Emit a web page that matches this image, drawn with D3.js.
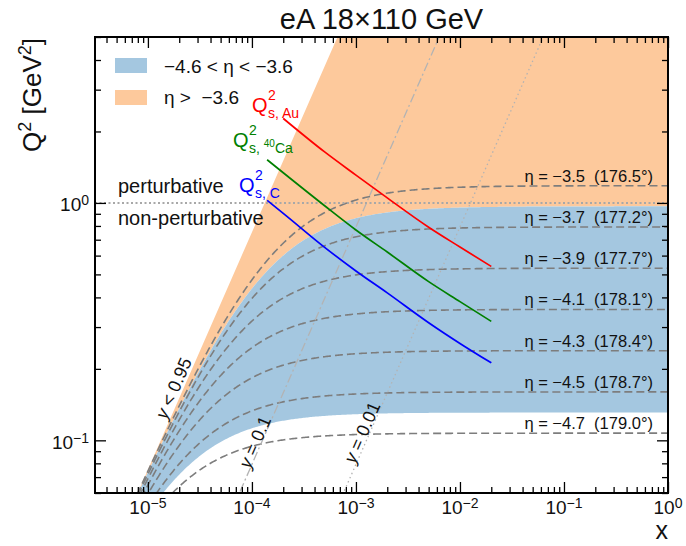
<!DOCTYPE html>
<html>
<head>
<meta charset="utf-8">
<script src="https://cdnjs.cloudflare.com/ajax/libs/d3/7.8.5/d3.min.js"></script>
<style>
  body { margin: 0; background: #fff; }
  svg { font-family: "Liberation Sans", Arial, sans-serif; }
  text { white-space: pre; }
</style>
</head>
<body>
<svg id="chart" width="686" height="546"></svg>
<script>
// beam energies (GeV)
const eBeam = 18;
const pBeam = 110;

// electron pseudorapidity band and iso-eta lines
const bandEta = [-4.6, -3.6];
const etaLines = [-3.5, -3.7, -3.9, -4.1, -4.3, -4.5, -4.7];
const etaAngles = ["176.5", "177.2", "177.7", "178.1", "178.4", "178.7", "179.0"];

// inelasticity lines and where their labels sit (Q2)
const yCuts = [0.95, 0.1, 0.01];
const yCutText = ["<", "=", "="];
const yCutLabelQ2 = [0.16, 0.096, 0.105];

// tick labels
const xTicks = [1e-5, 1e-4, 1e-3, 1e-2, 1e-1, 1];
const xTickExp = ["\u22125", "\u22124", "\u22123", "\u22122", "\u22121", "0"];
const yTicks = [0.1, 1];
const yTickExp = ["\u22121", "0"];

// saturation scales
const auX = [2e-4, 5e-4, 1e-3, 2e-3, 5e-3, 1e-2, 2e-2];
const auQ2 = [2.27, 1.64, 1.31, 1.05, 0.79, 0.652, 0.54];
const caX = [1.4e-4, 2e-4, 5e-4, 1e-3, 2e-3, 5e-3, 1e-2, 2e-2];
const caQ2 = [1.52, 1.34, 0.973, 0.769, 0.621, 0.466, 0.384, 0.317];
const cX = [1.4e-4, 2e-4, 5e-4, 1e-3, 2e-3, 5e-3, 1e-2, 2e-2];
const cQ2 = [1.025, 0.904, 0.650, 0.517, 0.418, 0.313, 0.256, 0.212];

const s = 4 * eBeam * pBeam;
const blueFill = "#a4c7e0";
const orangeFill = "#fdc99c";

const margin = {left: 95, right: 18, top: 37, bottom: 53};
const width = 686, height = 546;
const svg = d3.select("#chart");

const x = d3.scaleLog().domain([3.1e-6, 1]).range([margin.left, width - margin.right]);
const y = d3.scaleLog().domain([0.06, 5]).range([height - margin.bottom, margin.top]);

// Q2 along a line of constant electron eta
function etaQ2(eta, xv) {
  const A = 4 * eBeam * eBeam * Math.exp(2 * eta);
  return A * s * xv / (s * xv + A);
}
// x where an eta line meets y = 0.95
function etaXcut(eta, yc) {
  const A = 4 * eBeam * eBeam * Math.exp(2 * eta);
  return A * (1 - yc) / (yc * s);
}
function logSamples(a, b, n) {
  const la = Math.log10(a), lb = Math.log10(b);
  return d3.range(n + 1).map(i => Math.pow(10, la + (lb - la) * i / n));
}

svg.append("clipPath").attr("id", "plotclip")
  .append("rect")
  .attr("x", x.range()[0]).attr("y", y.range()[1])
  .attr("width", x.range()[1] - x.range()[0])
  .attr("height", y.range()[0] - y.range()[1]);

const plot = svg.append("g").attr("clip-path", "url(#plotclip)");
const line = d3.line().x(d => x(d[0])).y(d => y(d[1]));

// orange: eta > -3.6, y < 0.95
const x36 = etaXcut(bandEta[1], yCuts[0]);
const upper = logSamples(x36, 2, 500).map(v => [v, etaQ2(bandEta[1], v)]);
const orangePts = [[x36, 0.95 * s * x36], [20 / (0.95 * s), 20], [2, 20]]
  .concat(upper.slice().reverse());
plot.append("path")
  .attr("d", line(orangePts) + "Z")
  .attr("fill", orangeFill);

// blue: -4.6 < eta < -3.6, y < 0.95
const x46 = etaXcut(bandEta[0], yCuts[0]);
const lower = logSamples(x46, 2, 500).map(v => [v, etaQ2(bandEta[0], v)]);
const bluePts = upper.concat(lower.slice().reverse());
plot.append("path")
  .attr("d", line(bluePts) + "Z")
  .attr("fill", blueFill);

// iso-eta dashed lines
etaLines.forEach(eta => {
  const pts = logSamples(1e-6, 1.2, 500).map(v => [v, etaQ2(eta, v)]);
  plot.append("path")
    .attr("d", line(pts))
    .attr("fill", "none")
    .attr("stroke", "#7d7d7d")
    .attr("stroke-width", 1.6)
    .attr("stroke-dasharray", "8,4");
});

// y = 0.1 (dash-dot) and y = 0.01 (dotted)
[[yCuts[1], "9,3,2,3"], [yCuts[2], "1.5,3"]].forEach(([yc, dash]) => {
  const pts = [[1e-7, yc * s * 1e-7], [10 / (yc * s), 10]];
  plot.append("path")
    .attr("d", line(pts))
    .attr("fill", "none")
    .attr("stroke", "#b3b3b3")
    .attr("stroke-width", 1.3)
    .attr("stroke-dasharray", dash);
});

// perturbative boundary Q2 = 1
plot.append("line")
  .attr("x1", x.range()[0]).attr("x2", x.range()[1])
  .attr("y1", y(1)).attr("y2", y(1))
  .attr("stroke", "#a8a8a8")
  .attr("stroke-width", 2)
  .attr("stroke-dasharray", "2,2.5");

// saturation scales
const satLine = d3.line().x(d => x(d[0])).y(d => y(d[1])).curve(d3.curveMonotoneX);
[[auX, auQ2, "#ff0000"], [caX, caQ2, "#008000"], [cX, cQ2, "#0000ff"]].forEach(([xs, qs, col]) => {
  plot.append("path")
    .attr("d", satLine(xs.map((v, i) => [v, qs[i]])))
    .attr("fill", "none")
    .attr("stroke", col)
    .attr("stroke-width", 1.7);
});

// eta labels
etaLines.forEach((eta, i) => {
  svg.append("text")
    .attr("x", 653)
    .attr("y", y(etaQ2(eta, 0.3)) - 4)
    .attr("text-anchor", "end")
    .attr("font-size", 16.5)
    .attr("fill", "#111")
    .text(`\u03b7 = \u2212${Math.abs(eta).toFixed(1)}  (${etaAngles[i]}\u00b0)`);
});

// y-cut labels, rotated along the lines
yCuts.forEach((yc, i) => {
  const q = yCutLabelQ2[i];
  const px = x(q / (yc * s)), py = y(q);
  const p2x = x(10 * q / (yc * s)), p2y = y(10 * q);
  const ang = Math.atan2(p2y - py, p2x - px) * 180 / Math.PI;
  const off = [3, 0, 1][i];
  const a = ang * Math.PI / 180;
  const tx = px + off * Math.sin(a), ty = py - off * Math.cos(a);
  const t = svg.append("text")
    .attr("transform", `translate(${tx},${ty}) rotate(${ang})`)
    .attr("text-anchor", "middle")
    .attr("font-size", 18)
    .attr("fill", "#111");
  t.append("tspan").attr("font-style", "italic").text("y");
  t.append("tspan").text(` ${yCutText[i]} ${yc}`);
});

// saturation labels
function qsLabel(qx, qy, col, sub, nucleus) {
  const g = svg.append("g").attr("fill", col);
  g.append("text").attr("x", qx).attr("y", qy).attr("font-size", 20).text("Q");
  g.append("text").attr("x", qx + 16).attr("y", qy - 12).attr("font-size", 14).text("2");
  const t = g.append("text").attr("x", qx + 16).attr("y", qy + 6).attr("font-size", 14);
  t.append("tspan").text(sub);
  if (nucleus) {
    t.append("tspan").attr("font-size", 10).attr("dy", -6).text(nucleus[0]);
    t.append("tspan").attr("dy", 6).text(nucleus[1]);
  }
}
qsLabel(252, 112, "#ff0000", "s, Au");
qsLabel(233, 147, "#008000", "s, ", ["40", "Ca"]);
qsLabel(239, 192, "#0000ff", "s, C");

// perturbative text
svg.append("text").attr("x", 118).attr("y", 193).attr("font-size", 20).attr("fill", "#111").text("perturbative");
svg.append("text").attr("x", 118).attr("y", 225).attr("font-size", 20).attr("fill", "#111").text("non-perturbative");

// legend
const legend = svg.append("g");
[[blueFill, "\u22124.6 < \u03b7 < \u22123.6"], [orangeFill, "\u03b7 >  \u22123.6"]].forEach(([c, label], i) => {
  legend.append("rect").attr("x", 115).attr("y", 58 + i * 32).attr("width", 32).attr("height", 15).attr("fill", c);
  legend.append("text").attr("x", 164).attr("y", 73 + i * 31).attr("font-size", 19).attr("fill", "#111").text(label);
});

// axes: inward ticks on all four sides
const x0 = x.range()[0], x1 = x.range()[1], y0 = y.range()[0], y1 = y.range()[1];
const xMinor = [];
for (let k = -6; k <= -1; k++) for (let m = 2; m <= 9; m++) {
  const v = m * Math.pow(10, k);
  if (v > x.domain()[0] && v < 1) xMinor.push(v);
}
const yMinor = [];
for (let k = -2; k <= 0; k++) for (let m = 2; m <= 9; m++) {
  const v = m * Math.pow(10, k);
  if (v >= 0.06 && v <= 5) yMinor.push(v);
}

function styleAxis(g) {
  g.select(".domain").remove();
  g.selectAll(".tick line").attr("stroke", "#000").attr("stroke-width", 1.3);
}
[[d3.axisBottom, y0, xTicks, 11], [d3.axisBottom, y0, xMinor, 6], [d3.axisTop, y1, xTicks, 11], [d3.axisTop, y1, xMinor, 6]]
  .forEach(([ax, pos, vals, len]) => {
    svg.append("g").attr("transform", `translate(0,${pos})`)
      .call(ax(x).tickValues(vals).tickSize(-len).tickFormat(""))
      .call(styleAxis);
  });
[[d3.axisLeft, x0, yTicks, 11], [d3.axisLeft, x0, yMinor, 6], [d3.axisRight, x1, yTicks, 11], [d3.axisRight, x1, yMinor, 6]]
  .forEach(([ax, pos, vals, len]) => {
    svg.append("g").attr("transform", `translate(${pos},0)`)
      .call(ax(y).tickValues(vals).tickSize(-len).tickFormat(""))
      .call(styleAxis);
  });

svg.append("rect")
  .attr("x", x0).attr("y", y1).attr("width", x1 - x0).attr("height", y0 - y1)
  .attr("fill", "none").attr("stroke", "#000").attr("stroke-width", 2);

// tick labels with superscripts
xTicks.forEach((v, i) => {
  const t = svg.append("text").attr("x", x(v)).attr("y", y0 + 21)
    .attr("text-anchor", "middle").attr("font-size", 19).attr("fill", "#111");
  t.append("tspan").text("10");
  t.append("tspan").attr("dy", -6).attr("font-size", 14).text(xTickExp[i]);
});
yTicks.forEach((v, i) => {
  const t = svg.append("text").attr("x", x0 - 6).attr("y", y(v) + 8.5)
    .attr("text-anchor", "end").attr("font-size", 19).attr("fill", "#111");
  t.append("tspan").text("10");
  t.append("tspan").attr("dy", -6).attr("font-size", 14).text(yTickExp[i]);
});

// title and axis labels
svg.append("text").attr("x", (x0 + x1) / 2).attr("y", 29)
  .attr("text-anchor", "middle").attr("font-size", 29).attr("fill", "#111")
  .text("eA 18\u00d7110 GeV");

svg.append("text").attr("x", x1).attr("y", 539)
  .attr("text-anchor", "end").attr("font-size", 25).attr("fill", "#111").text("x");

const yl = svg.append("text")
  .attr("transform", `translate(41,${y1 + 1}) rotate(-90)`)
  .attr("text-anchor", "end").attr("font-size", 26).attr("fill", "#111");
yl.append("tspan").text("Q");
yl.append("tspan").attr("dy", -10).attr("font-size", 18).text("2");
yl.append("tspan").attr("dy", 10).text(" [GeV");
yl.append("tspan").attr("dy", -10).attr("font-size", 18).text("2");
yl.append("tspan").attr("dy", 10).text("]");
</script>
</body>
</html>
